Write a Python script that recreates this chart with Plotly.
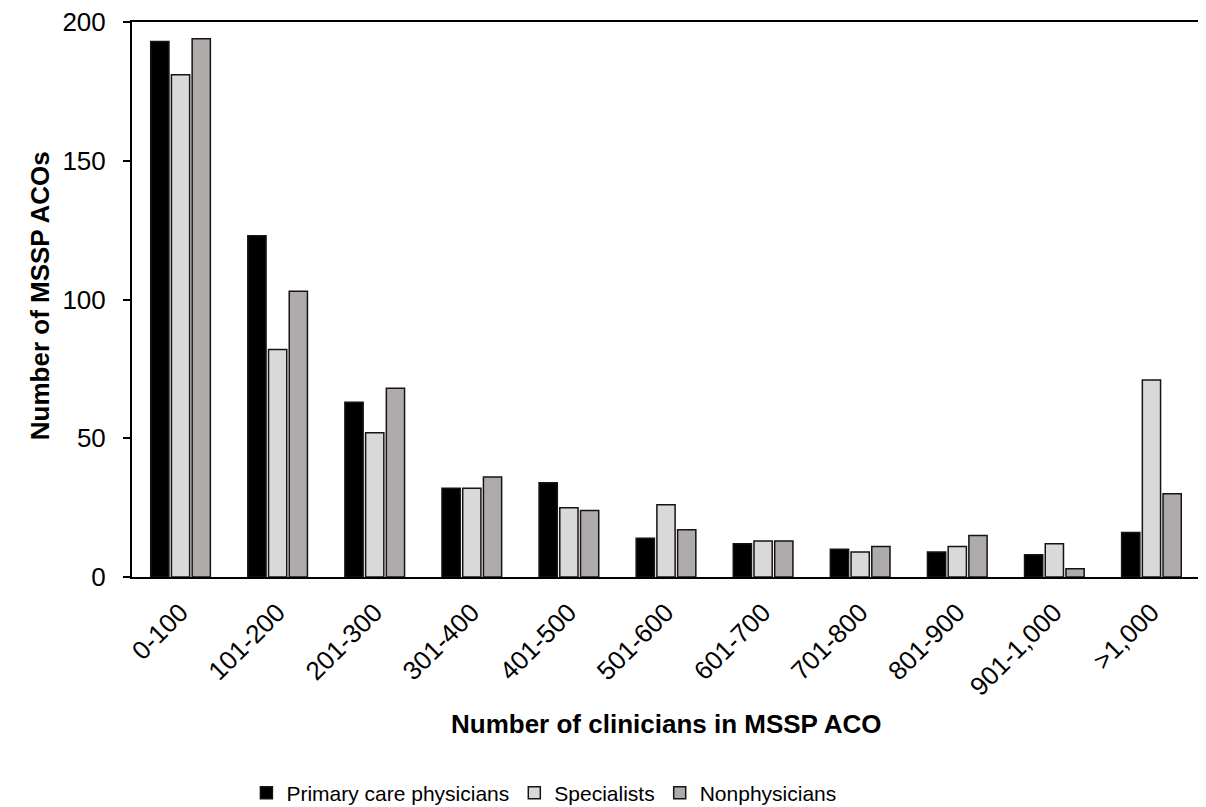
import plotly.graph_objects as go

categories = ["0-100", "101-200", "201-300", "301-400", "401-500", "501-600",
              "601-700", "701-800", "801-900", "901-1,000", ">1,000"]
primary_care = [193, 123, 63, 32, 34, 14, 12, 10, 9, 8, 16]
specialists = [181, 82, 52, 32, 25, 26, 13, 9, 11, 12, 71]
nonphysicians = [194, 103, 68, 36, 24, 17, 13, 11, 15, 3, 30]
y_ticks = [0, 50, 100, 150, 200]

FONT = "Liberation Sans, Arial, sans-serif"

fig = go.Figure()
series = [
    ("Primary care physicians", primary_care, "#000000"),
    ("Specialists", specialists, "#d9d9d9"),
    ("Nonphysicians", nonphysicians, "#afabab"),
]
for name, vals, color in series:
    fig.add_trace(go.Bar(
        x=categories, y=vals, name=name,
        marker=dict(color=color, line=dict(color="#141414", width=1.5)),
    ))

fig.update_layout(
    width=1198, height=799,
    margin=dict(l=124, r=6, t=14, b=230, autoexpand=False),
    paper_bgcolor="white", plot_bgcolor="white",
    barmode="group", bargap=0.36, bargroupgap=0.12,
    font=dict(family=FONT, size=26, color="#000000"),
    showlegend=True,
    legend=dict(orientation="h", xref="container", x=0.199, xanchor="left",
                yref="container", y=0.0175, yanchor="middle",
                font=dict(family=FONT, size=21), traceorder="normal",
                itemwidth=30),
)
fig.update_xaxes(
    showline=True, linecolor="#000000", linewidth=2, mirror=True,
    ticks="", tickangle=-45, tickfont=dict(family=FONT, size=26),
    showgrid=False, automargin=False, ticklabelstandoff=8,
    ticklabeloverflow="allow",
)
fig.update_yaxes(
    range=[0, 200], tickvals=y_ticks, showline=True, linecolor="#000000",
    linewidth=2, ticks="outside", ticklen=7, tickwidth=2, tickcolor="#000000",
    tickfont=dict(family=FONT, size=26), showgrid=False, zeroline=False,
    automargin=False, ticklabelstandoff=12, ticklabeloverflow="allow",
)
fig.add_annotation(
    text="<b>Number of clinicians in MSSP ACO</b>", xref="paper", yref="paper",
    x=0.5, y=-0.265, showarrow=False, xanchor="center", yanchor="middle",
    font=dict(family=FONT, size=26),
)
fig.add_annotation(
    text="<b>Number of MSSP ACOs</b>", xref="paper", yref="paper",
    x=-0.0861, y=0.506, showarrow=False, textangle=-90,
    xanchor="center", yanchor="middle", font=dict(family=FONT, size=26),
)

fig.write_html("out.html")
